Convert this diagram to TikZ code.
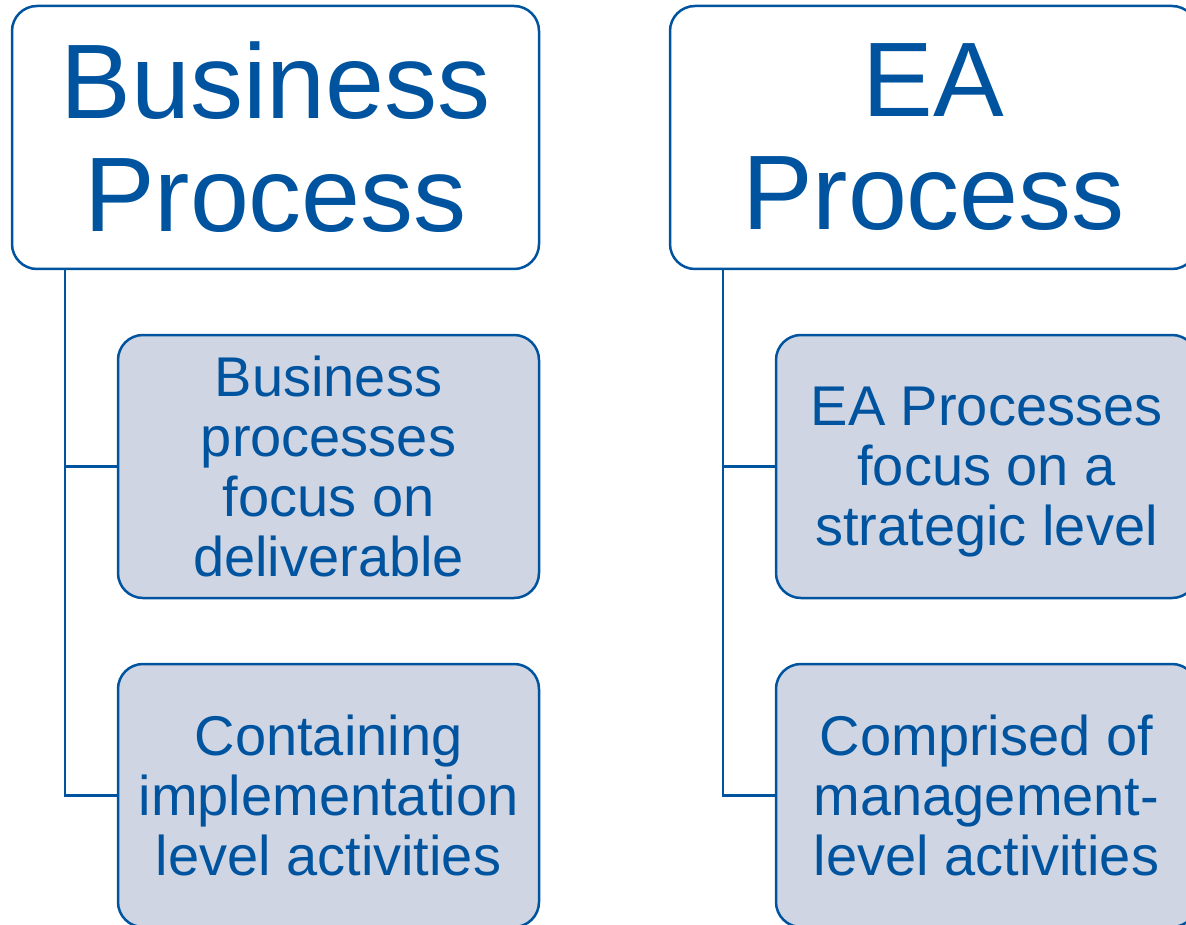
\documentclass[tikz,border=0pt]{standalone}
\usepackage{fontspec}
\setmainfont{Liberation Sans}
\usepackage{tikz}
\usetikzlibrary{positioning}
\definecolor{eablue}{RGB}{0,84,159}
\definecolor{eafill}{RGB}{207,213,226}

\begin{document}
\begin{tikzpicture}[
  procbox/.style={draw=eablue, line width=2.5pt, fill=white, rounded corners=25pt,
    minimum width=527pt, minimum height=263pt, text=eablue, align=center,
    inner sep=0pt, outer sep=0pt, font=\fontsize{106pt}{113pt}\selectfont},
  itembox/.style={draw=eablue, line width=2.5pt, fill=eafill, rounded corners=25pt,
    minimum width=421pt, minimum height=263pt, text=eablue, align=center,
    inner sep=0pt, outer sep=0pt, font=\fontsize{56pt}{60pt}\selectfont},
  link/.style={draw=eablue, line width=2.2pt}]
  \useasboundingbox (0,0) rectangle (1186pt,-925pt);
  \clip (0,0) rectangle (1186pt,-925pt);

  \node[procbox, anchor=north west] at (12pt,-6pt) (bp) {Business\\Process};
  \node[procbox, right=131pt of bp]     (ea)  {EA\\Process};
  \node[itembox, below left=66pt and 0pt of bp.south east] (bp1) {Business\\processes\\focus on\\deliverable};
  \node[itembox, below=66pt of bp1]     (bp2) {Containing\\implementation\\level activities};
  \node[itembox, below left=66pt and 0pt of ea.south east] (ea1) {EA Processes\\focus on a\\\smash{strategic level}};
  \node[itembox, below=66pt of ea1]     (ea2) {Comprised of\\management-\\level activities};

  \draw[link] ([xshift=53pt]bp.south west) |- (bp1.west);
  \draw[link] ([xshift=53pt]bp.south west) |- (bp2.west);
  \draw[link] ([xshift=53pt]ea.south west) |- (ea1.west);
  \draw[link] ([xshift=53pt]ea.south west) |- (ea2.west);
\end{tikzpicture}
\end{document}
